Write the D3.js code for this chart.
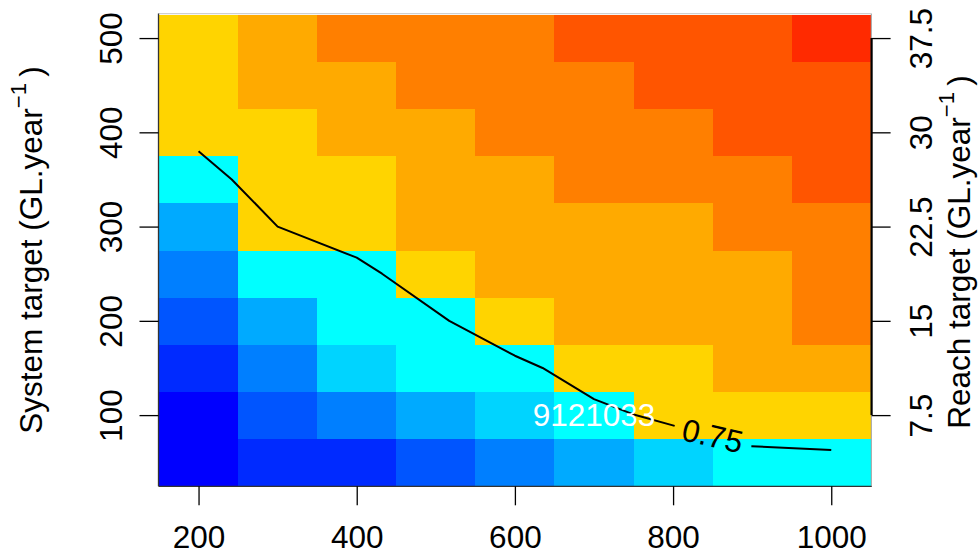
<!DOCTYPE html>
<html>
<head>
<meta charset="utf-8">
<script src="https://cdn.jsdelivr.net/npm/d3@7/dist/d3.min.js"></script>
<style>
  html, body { margin: 0; padding: 0; background: #fff; }
  svg { display: block; }
  text { font-family: "Liberation Sans", Arial, Helvetica, sans-serif; }
</style>
</head>
<body>
<svg id="chart" width="980" height="559"></svg>
<script>
// ---------------- data ----------------
const xCenters = [200, 300, 400, 500, 600, 700, 800, 900, 1000];
const yCenters = [50, 100, 150, 200, 250, 300, 350, 400, 450, 500];
const palette = ["#0000FF", "#002AFF", "#0055FF", "#007FFF", "#00AAFF", "#00D4FF", "#00FFFF",
                 "#FFD400", "#FFAA00", "#FF7F00", "#FF5500", "#FF2A00"];
// colour level of each cell, one row per y centre (50 ... 500), one entry per x centre
const levels50  = [0, 1, 1, 2, 3, 4, 5, 6, 6];
const levels100 = [0, 2, 3, 4, 5, 6, 7, 7, 7];
const levels150 = [1, 3, 5, 6, 6, 7, 7, 8, 8];
const levels200 = [2, 4, 6, 6, 7, 8, 8, 8, 9];
const levels250 = [3, 6, 6, 7, 8, 8, 8, 8, 9];
const levels300 = [4, 7, 7, 8, 8, 8, 8, 9, 9];
const levels350 = [6, 7, 7, 8, 8, 9, 9, 9, 10];
const levels400 = [7, 7, 8, 8, 9, 9, 9, 10, 10];
const levels450 = [7, 8, 8, 9, 9, 9, 10, 10, 10];
const levels500 = [7, 8, 9, 9, 9, 10, 10, 10, 11];
const levelRows = [levels50, levels100, levels150, levels200, levels250,
                   levels300, levels350, levels400, levels450, levels500];

// 0.75 contour (two pieces, split by its label)
const contourAX = [200, 242, 300, 400, 432, 517, 600, 635, 700, 749, 802];
const contourAY = [380, 350, 300, 267, 250, 200, 163, 150, 117, 101, 88.6];
const contourBX = [899, 1000];
const contourBY = [67, 63];
const contourLabel = "0.75";
const contourLabelPos = [850, 78];

const annotText = "9121033";
const annotPos = [700, 100];

const xTicks = [200, 400, 600, 800, 1000];
const yTicks = [100, 200, 300, 400, 500];
const reachTicks = [7.5, 15, 22.5, 30, 37.5];
const reachFactor = 0.075;

// ---------------- layout ----------------
const svg = d3.select("#chart");
const L = 158.5, R = 870.8, T = 14.5, B = 485.8;
const x = d3.scaleLinear().domain([150, 1050]).range([L + 0.5, R]);
const y = d3.scaleLinear().domain([25, 525]).range([B, T]);
const yR = d3.scaleLinear().domain([25 * reachFactor, 525 * reachFactor]).range([B, T]);
const FS = 31.5;
const halfW = 50, halfH = 25;

// cells
const cells = [];
yCenters.forEach((yc, i) => xCenters.forEach((xc, j) => cells.push({xc, yc, lev: levelRows[i][j]})));
svg.append("g").selectAll("rect").data(cells).join("rect")
  .attr("x", d => x(d.xc - halfW))
  .attr("y", d => y(d.yc + halfH))
  .attr("width", d => x(d.xc + halfW) - x(d.xc - halfW) + 0.4)
  .attr("height", d => y(d.yc - halfH) - y(d.yc + halfH) + 0.4)
  .attr("fill", d => palette[d.lev])
  .attr("shape-rendering", "crispEdges");

// frame
svg.append("line").attr("x1", L).attr("x2", R).attr("y1", T - 0.8).attr("y2", T - 0.8)
  .attr("stroke", "#c4c4c4").attr("stroke-width", 1);
svg.append("line").attr("x1", R + 0.5).attr("x2", R + 0.5).attr("y1", T - 1).attr("y2", B)
  .attr("stroke", "#9a9a9a").attr("stroke-width", 1);
svg.append("line").attr("x1", L).attr("x2", L).attr("y1", T - 1).attr("y2", B + 0.5)
  .attr("stroke", "#333").attr("stroke-width", 1.3);
svg.append("line").attr("x1", L).attr("x2", R + 1).attr("y1", B + 0.5).attr("y2", B + 0.5)
  .attr("stroke", "#333").attr("stroke-width", 1.3);

// contour
const line = d3.line().x(d => x(d[0])).y(d => y(d[1]));
svg.append("path").datum(d3.zip(contourAX, contourAY)).attr("d", line)
  .attr("fill", "none").attr("stroke", "#000").attr("stroke-width", 2).attr("stroke-linejoin", "round");
svg.append("path").datum(d3.zip(contourBX, contourBY)).attr("d", line)
  .attr("fill", "none").attr("stroke", "#000").attr("stroke-width", 2);
svg.append("text")
  .attr("transform", `translate(${x(contourLabelPos[0])},${y(contourLabelPos[1])}) rotate(13)`)
  .attr("text-anchor", "middle").attr("dominant-baseline", "central")
  .attr("font-size", FS).attr("fill", "#000").text(contourLabel);

// annotation
svg.append("text")
  .attr("x", x(annotPos[0])).attr("y", y(annotPos[1]))
  .attr("text-anchor", "middle").attr("dominant-baseline", "central")
  .attr("font-size", FS).attr("fill", "#fff").text(annotText);

// bottom axis
const gx = svg.append("g").attr("transform", `translate(0,${B + 0.5})`)
  .call(d3.axisBottom(x).tickValues(xTicks).tickSize(19).tickPadding(0).tickFormat(d3.format("d")));
gx.select(".domain").remove();
gx.selectAll(".tick line").attr("stroke", "#000").attr("stroke-width", 1.3);
gx.selectAll(".tick text").attr("font-size", FS).attr("fill", "#000")
  .attr("font-family", "Liberation Sans, Arial, sans-serif")
  .attr("dy", null).attr("y", 62).attr("dominant-baseline", "auto");

// left axis
const gy = svg.append("g").attr("transform", `translate(${L},0)`)
  .call(d3.axisLeft(y).tickValues(yTicks).tickSize(19).tickFormat(d3.format("d")));
gy.select(".domain").remove();
gy.selectAll(".tick line").attr("stroke", "#000").attr("stroke-width", 1.3);
gy.selectAll(".tick text").attr("font-size", FS).attr("fill", "#000")
  .attr("font-family", "Liberation Sans, Arial, sans-serif")
  .attr("x", null).attr("dy", null).attr("text-anchor", "middle")
  .attr("transform", `translate(${121.7 - L},0) rotate(-90)`);

// right axis
const gr = svg.append("g").attr("transform", `translate(${R + 0.8},0)`)
  .call(d3.axisRight(yR).tickValues(reachTicks).tickSize(19).tickFormat(d => String(d)));
gr.select(".domain").attr("d", `M0,${yR(reachTicks[0])}V${yR(reachTicks[reachTicks.length - 1])}`)
  .attr("stroke", "#000").attr("stroke-width", 2.2);
gr.selectAll(".tick line").attr("stroke", "#000").attr("stroke-width", 1.3);
gr.selectAll(".tick text").attr("font-size", FS).attr("fill", "#000")
  .attr("font-family", "Liberation Sans, Arial, sans-serif")
  .attr("x", null).attr("dy", null).attr("text-anchor", "middle")
  .attr("transform", `translate(${931.7 - R - 0.8},0) rotate(-90)`);

// axis titles
function title(tx, ty, main) {
  const t = svg.append("text")
    .attr("transform", `translate(${tx},${ty}) rotate(-90)`)
    .attr("text-anchor", "middle").attr("font-size", FS).attr("fill", "#000");
  t.append("tspan").text(main + " (GL.year");
  t.append("tspan").attr("font-size", FS * 0.7).attr("dy", -FS * 0.5).text("\u22121");
  t.append("tspan").attr("dy", FS * 0.5).text("\u2009)");
}
title(41.7, 250, "System target");
title(970, 252, "Reach target");
</script>
</body>
</html>
